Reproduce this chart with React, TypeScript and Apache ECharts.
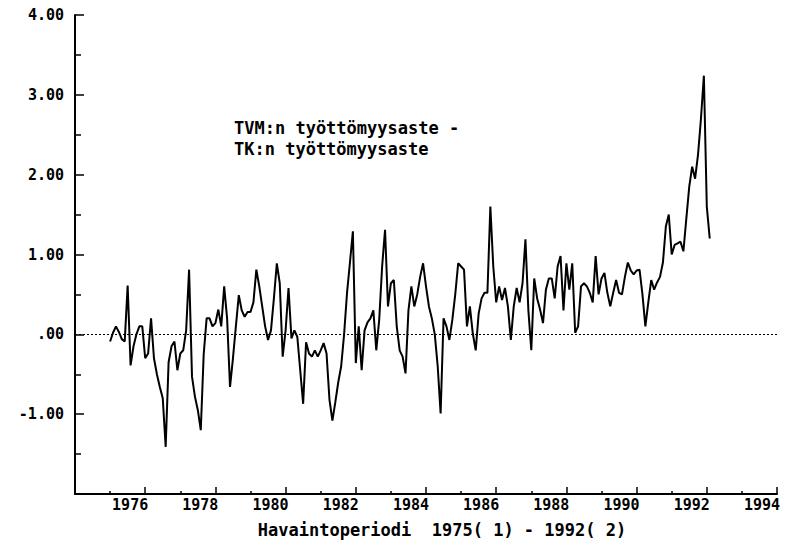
import React, { useEffect, useRef } from "react";
import * as echarts from "echarts";

// Monthly series, 1975(1) – 1992(2)
const START_YEAR = 1975;
const START_MONTH = 1;
const values: number[] = [
  -0.09, 0.02, 0.1, 0.03, -0.06, -0.09, 0.61, -0.39, -0.15, 0.0, 0.1, 0.1,
  -0.3, -0.24, 0.2, -0.3, -0.5, -0.66, -0.8, -1.41, -0.35, -0.15, -0.09, -0.45,
  -0.24, -0.2, 0.05, 0.81, -0.53, -0.78, -0.95, -1.2, -0.25, 0.2, 0.2, 0.1,
  0.14, 0.31, 0.1, 0.6, 0.2, -0.66, -0.3, 0.1, 0.49, 0.3, 0.22, 0.28,
  0.28, 0.4, 0.81, 0.6, 0.35, 0.1, -0.07, 0.05, 0.45, 0.89, 0.64, -0.28,
  0.05, 0.58, -0.05, 0.05, -0.03, -0.45, -0.87, -0.1, -0.24, -0.28, -0.2, -0.28,
  -0.2, -0.11, -0.24, -0.82, -1.08, -0.85, -0.6, -0.4, 0.0, 0.52, 0.9, 1.29,
  -0.36, 0.1, -0.45, 0.05, 0.15, 0.2, 0.3, -0.2, 0.18, 0.85, 1.31, 0.35,
  0.64, 0.68, 0.1, -0.2, -0.28, -0.49, 0.3, 0.6, 0.35, 0.5, 0.72, 0.89,
  0.6, 0.35, 0.2, 0.0, -0.4, -0.99, 0.2, 0.1, -0.07, 0.18, 0.5, 0.89,
  0.85, 0.81, 0.1, 0.35, 0.01, -0.2, 0.26, 0.45, 0.52, 0.52, 1.6, 0.85,
  0.4, 0.6, 0.43, 0.58, 0.35, -0.07, 0.35, 0.58, 0.4, 0.64, 1.19, 0.3,
  -0.2, 0.7, 0.45, 0.31, 0.14, 0.56, 0.7, 0.7, 0.45, 0.85, 0.98, 0.3,
  0.89, 0.56, 0.89, 0.02, 0.1, 0.6, 0.64, 0.6, 0.52, 0.4, 0.98, 0.5,
  0.7, 0.77, 0.52, 0.35, 0.52, 0.68, 0.52, 0.5, 0.72, 0.9, 0.8, 0.75,
  0.8, 0.81, 0.5, 0.1, 0.4, 0.68, 0.56, 0.65, 0.72, 0.9, 1.35, 1.5,
  1.0, 1.12, 1.14, 1.16, 1.04, 1.45, 1.85, 2.1, 1.95, 2.25, 2.7, 3.24,
  1.6, 1.2,
];

const xMin = 1974;
const xMax = 1994;
const yMin = -2;
const yMax = 4;

const titleLines = ["TVM:n työttömyysaste -", "TK:n työttömyysaste"];
const axisName = "Havaintoperiodi  1975( 1) - 1992( 2)";

const FONT = "'DejaVu Sans Mono', 'Liberation Mono', monospace";

export default function App() {
  const ref = useRef<HTMLDivElement>(null);

  useEffect(() => {
    if (!ref.current) return;
    const chart = echarts.init(ref.current, undefined, { renderer: "svg" });
    const data = values.map((v, i) => [
      START_YEAR + (START_MONTH - 1 + i) / 12,
      v,
    ]);
    chart.setOption({
      animation: false,
      backgroundColor: "#fff",
      grid: {
        left: 75,
        right: 8,
        top: 15,
        bottom: 54,
        containLabel: false,
        outerBoundsMode: "none",
      },
      xAxis: {
        type: "value",
        min: xMin,
        max: xMax,
        interval: 2,
        name: axisName,
        nameLocation: "middle",
        nameGap: 27,
        nameTextStyle: {
          fontFamily: FONT,
          fontWeight: "bold",
          fontSize: 17,
          color: "#000",
          padding: [0, 0, 0, 32],
        },
        axisLine: { show: true, onZero: false, lineStyle: { color: "#000", width: 2 } },
        axisTick: { show: true, inside: true, length: 7, lineStyle: { color: "#000", width: 1.5 } },
        minorTick: { show: true, splitNumber: 2, length: 3, lineStyle: { color: "#000", width: 1.5 } },
        splitLine: { show: false },
        axisLabel: {
          show: true,
          margin: 3,
          align: "right",
          padding: [0, -3, 0, 0],
          fontFamily: FONT,
          fontWeight: "bold",
          fontSize: 15,
          color: "#000",
          formatter: (v: number) => (v === xMin ? "" : String(v)),
        },
      },
      yAxis: {
        type: "value",
        min: yMin,
        max: yMax,
        interval: 1,
        axisLine: { show: true, onZero: false, lineStyle: { color: "#000", width: 2 } },
        axisTick: { show: true, inside: true, length: 9, lineStyle: { color: "#000", width: 1.5 } },
        minorTick: { show: true, splitNumber: 2, length: 6, lineStyle: { color: "#000", width: 1.5 } },
        splitLine: { show: false },
        axisLabel: {
          show: true,
          margin: 11,
          fontFamily: FONT,
          fontWeight: "bold",
          fontSize: 15,
          color: "#000",
          formatter: (v: number) =>
            v === yMin ? "" : v === 0 ? ".00" : v.toFixed(2),
        },
      },
      graphic: [
        {
          type: "text",
          left: 234,
          top: 117,
          style: {
            text: titleLines.join("\n"),
            fontFamily: FONT,
            fontWeight: "bold",
            fontSize: 17,
            lineHeight: 21,
            fill: "#000",
          },
        },
      ],
      series: [
        {
          type: "line",
          data,
          showSymbol: false,
          symbol: "none",
          lineStyle: { color: "#000", width: 2 },
          markLine: {
            silent: true,
            symbol: "none",
            label: { show: false },
            lineStyle: { color: "#000", width: 1, type: [2, 2] },
            data: [{ yAxis: 0 }],
          },
        },
      ],
    });
    return () => chart.dispose();
  }, []);

  return (
    <div
      ref={ref}
      style={{ position: "fixed", left: 0, top: 0, width: 785, height: 548 }}
    />
  );
}
